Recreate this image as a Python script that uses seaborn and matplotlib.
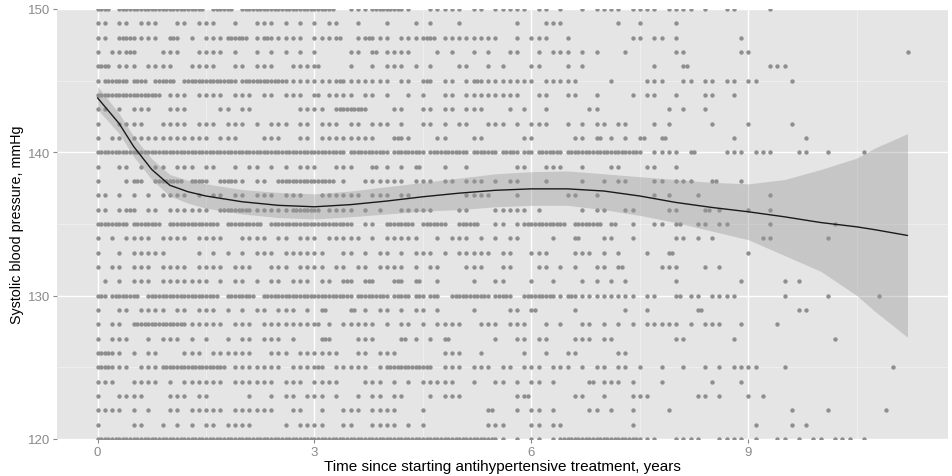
import numpy as np
import pandas as pd
import matplotlib
matplotlib.use('Agg')
import matplotlib.pyplot as plt
import seaborn as sns

# Systolic BP levels (rows of dots), top to bottom
sbp_levels = [150, 149, 148, 147, 146, 145, 144, 143, 142, 141, 140,
              139, 138, 137, 136, 135, 134, 133, 132, 131, 130,
              129, 128, 127, 126, 125, 124, 123, 122, 121, 120]

# dots, one char per 0.1 year
# '.' = empty, 'o' = one point, '#' = two points (solid run)
# years 0.0 - 2.9
dots_a = [
    "##.############.###.##########",
    "oo.oo.ooo..oo.ooo..o..ooo.o.o.",
    "oo.##oooo.#o.o.ooo###.o#ooooo",
    "o.oo#o...ooo..oooo.o..o.o.o.o",
    "##.ooo.oooo..oooo..oo.ooo..ooo",
    "o###o##.###.#######o######oooo",
    "#########.ooo.oooo.ooo.oo.ooo",
    "oo.o.ooo..ooo....oo.oo......oo",
    "o..oooo..oooo.ooo.ooo.o.ooo.oo",
    "o.oo.ooooooooooo.ooo...ooo..oo",
    "##############################",
    "o..oo.o.oo.ooo.oo..o.oo.o.o.oo",
    "o...o#o.####.##o.##oo.oo.#####",
    "oo.o.o.o.oooo.o.oo.oo.ooo.ooo.",
    "oo.o#o.oo.oooooo.####oooooo###",
    "####o####.#######.#####.######",
    "o.o.oooo.oooo.oooo..oooo.oo.oo",
    "o..o.ooooo....o.o.o.o.ooo.oooo",
    "o.oo.ooo.oooo.oooo.ooo..ooo.oo",
    ".o.o.ooo.ooooooo.o.oo.o.oo.ooo",
    "#o####.##########.####.#######",
    "o..oo.oooo.oo.ooo.o.o.oo.ooo.o",
    "o.oo.#######oooooo.ooo.ooooooo",
    "o.ooo..o.ooo.o.o..o.oo.ooo.o",
    "##oo.o.oo...ooo.oooooo..ooo.oo",
    "##ooo.ooo#########.ooooooo.ooo",
    "ooo..oooo.o.oooooo.oooooo.ooo",
    "o..oooo...ooo.oo.....o..o.oo.o",
    "oooo.o.o..oo.ooooo.oooooo..oo",
    "o....oo..o.o.o.oo.oooo....o.oo",
    "##############################",
]
# years 3.0 - 7.1
dots_b = [
    "###..ooo####oo..ooooo.oo.ooooo.oo.o..o.ooo",
    "o.oo..o...o...o.o...o.......o...ooo",
    "ooo#..o#ooo.ooo##.oooooooo..o.ooo..o",
    "o....oo.#.oooo...o.o..o.o..oo..o.ooo.o.o",
    "#....o..o.ooo.o.o...oo..o.o...oo...o.o",
    "ooo#ooooooo.oo.#o.oo.o#oooooooo.ooooo....o",
    "#.oooo.oo.o..o.o..oo.oooooooo..oo..oo..o",
    "oo.####o...oo..oo.oo.ooo...o.o..o.....oo",
    ".ooo.oo.ooo.o..oo.o.oo..ooo.o.ooo..o.o.oo",
    ".oooooooo..#oo...oo...oo.....oo.....oo.#.o",
    "####o#####o####o#####o###o##o#o###o#######",
    "o..ooo..#.o.o.#...o..o......oo..ooo..o...o",
    "###.o..oooooo.ooo.oo.ooo.o.oo...o....o..o",
    ".oooooo.ooo.oo.......oooo...o......oo..o",
    "#.oooo.o.o..ooooo...oo...ooooo.o.....o.oo",
    "#####o.oo.####.###o.###..oo.o######.####.#",
    "o.ooooo.o.ooooo..o.ooo.o.o.oo....o..#...oo",
    "oo..oo.o.oo.o.ooo.o.ooooo.oo..ooo...ooo.o",
    "oo.oo.oo.oooo.o.oo...ooo..oo...oo.o.o..oo",
    ".oo.#o.#o..#o.#..o....o..oo...o..o...o.o.o",
    "#####o####o##o#o#o.#####o##o.####oo#oooooo",
    ".#...#.o.oo.o.oo.o....o....oo.#.....o",
    "#.o.ooooo.o.oo.o.oooo..ooo.ooo..o.o..oo.o.",
    ".#o...ooo...#.o.o.#......o..oo.oo...ooo.oo",
    "oooo..oo.ooo......ooo..o.....o..o..oo",
    "#o.ooooo.o######o.ooo.ooo.oo.ooo.ooo.o.oo",
    "oooo...ooo.o.o.ooooo..o..oo.o.oo.o....#.oo",
    "oo.o..o.oo.oo...o.ooo.......o#......oo..o",
    ".o..ooo.oooo...o........#...o.oo.o....oo.o",
    "oo..oo..oooo.o.o........ooo...oo.oo",
    "#########################oo.o.oo.o########",
]
# years 7.2 onwards
dots_c = [
    "o.oooo.oooo.o..oo....o",
    "o..o....o",
    "..oo.oo.o........o",
    ".o......oo.......oo.....................o",
    ".....o...#...........ooo",
    "....ooo..oo.oo.oo.oo....o",
    "..o.oo..o...oo..o",
    ".......o.o..o",
    "oo...o.o.....o....o.....o",
    ".o.#..#.........o.........o",
    "###o.oooo.#....ooo.ooo...oo..o....o",
    "o...oo..o",
    "oo...oo.ooo..#...o",
    ".....o.o...o.........o",
    ".oo....oo...#.o...o..o",
    "..o..oo.#..oo.oo.....o........o",
    "..o.....oo.o.o......oo.......o",
    "o...o..#..........o",
    "#.....ooo...o.o",
    ".o......o........o.....o.o",
    "ooo.oo..#.oo.oooo......o.....o......o",
    ".o..o......#.............oo",
    "o.o.ooooo.o.ooo..o....o",
    "........oo......o.............o",
    "oo",
    "oo.o..o..o..o.o.oooo...o..............o",
    "o.o...o......o...o",
    "..ooo......oo.o...o.o",
    "..o....o................o....o.......o",
    "..o................o....o.o",
    "###ooo..oooo..oooo.o..oo.o.oo.ooo.o",
]
segment_start = [0, 30, 72]   # first 0.1-year cell of each block

# loess fit with 95% band
smooth_x = [0.0, 0.15, 0.3, 0.5, 0.75, 1.0, 1.25, 1.5, 2.0, 2.5, 3.0, 3.5, 4.0,
            4.5, 5.0, 5.5, 6.0, 6.5, 7.0, 7.5, 8.0, 8.5, 9.0, 9.5, 10.0,
            10.5, 10.75, 11.2]
smooth_y = [143.8, 142.9, 142.0, 140.4, 138.8, 137.7, 137.25, 136.95, 136.55,
            136.3, 136.2, 136.35, 136.6, 136.9, 137.15, 137.35, 137.45, 137.45,
            137.3, 136.95, 136.5, 136.15, 135.85, 135.5, 135.1, 134.8, 134.6, 134.2]
smooth_lo = [143.0, 142.15, 141.3, 139.7, 138.1, 136.95, 136.45, 136.1, 135.7,
             135.45, 135.35, 135.5, 135.7, 135.9, 136.0, 136.2, 136.3, 136.3,
             136.0, 135.6, 135.1, 134.5, 133.9, 132.8, 131.7, 130.0, 128.9, 127.1]
smooth_hi = [144.6, 143.65, 142.7, 141.1, 139.55, 138.45, 138.05, 137.8, 137.4,
             137.2, 137.1, 137.3, 137.6, 137.9, 138.2, 138.5, 138.65, 138.7,
             138.5, 138.3, 138.1, 137.9, 137.8, 138.1, 138.8, 139.6, 140.3, 141.3]

x_ticks = [0, 3, 6, 9]
x_minor = [1.5, 4.5, 7.5, 10.5]
y_ticks = [120, 130, 140, 150]
y_minor = [125, 135, 145]

# unpack the dot rows into a long table
rows = []
for level, a, b, c in zip(sbp_levels, dots_a, dots_b, dots_c):
    for seg, start in zip([a, b, c], segment_start):
        for j, ch in enumerate(seg):
            if ch == 'o':
                rows.append(((start + j) / 10, level))
            elif ch == '#':
                rows.append(((start + j) / 10, level))
                rows.append(((start + j + 0.5) / 10, level))
df = pd.DataFrame(rows, columns=['years', 'sbp'])

sns.set_theme(style='darkgrid')
plt.rcParams['font.family'] = ['Liberation Sans', 'DejaVu Sans']

fig = plt.figure(figsize=(9.52, 4.77), dpi=100)
ax = fig.add_axes([0.0599, 0.0776, 0.9359, 0.9015])
ax.set_facecolor('#E5E5E5')

sns.scatterplot(data=df, x='years', y='sbp', color='#8e8e8e', s=10,
                linewidth=0, ax=ax, zorder=2)
ax.fill_between(smooth_x, smooth_lo, smooth_hi, color='#999999', alpha=0.4,
                linewidth=0, zorder=3)
sns.lineplot(x=smooth_x, y=smooth_y, color='#1a1a1a', linewidth=1.0, ax=ax,
             zorder=4)

ax.set_xlim(-0.56, 11.76)
ax.set_ylim(120, 150)
ax.set_xticks(x_ticks)
ax.set_xticks(x_minor, minor=True)
ax.set_yticks(y_ticks)
ax.set_yticks(y_minor, minor=True)
ax.set_xticklabels([str(v) for v in x_ticks])
ax.set_yticklabels([str(v) for v in y_ticks])
ax.grid(which='major', color='white', linewidth=1.0)
ax.grid(which='minor', color='#F2F2F2', linewidth=0.5)
ax.set_axisbelow(True)
for s in ax.spines.values():
    s.set_visible(False)

ax.tick_params(which='major', length=3, width=0.8, color='#8a8a8a',
               labelcolor='#8a8a8a', labelsize=9.5, pad=2,
               bottom=True, left=True)
ax.tick_params(which='minor', length=0)

ax.set_xlabel('Time since starting antihypertensive treatment, years',
              fontsize=11, color='black', labelpad=1)
ax.set_ylabel('Systolic blood pressure, mmHg', fontsize=10.3, color='black',
              labelpad=3)

fig.savefig('out.png', dpi=100)
